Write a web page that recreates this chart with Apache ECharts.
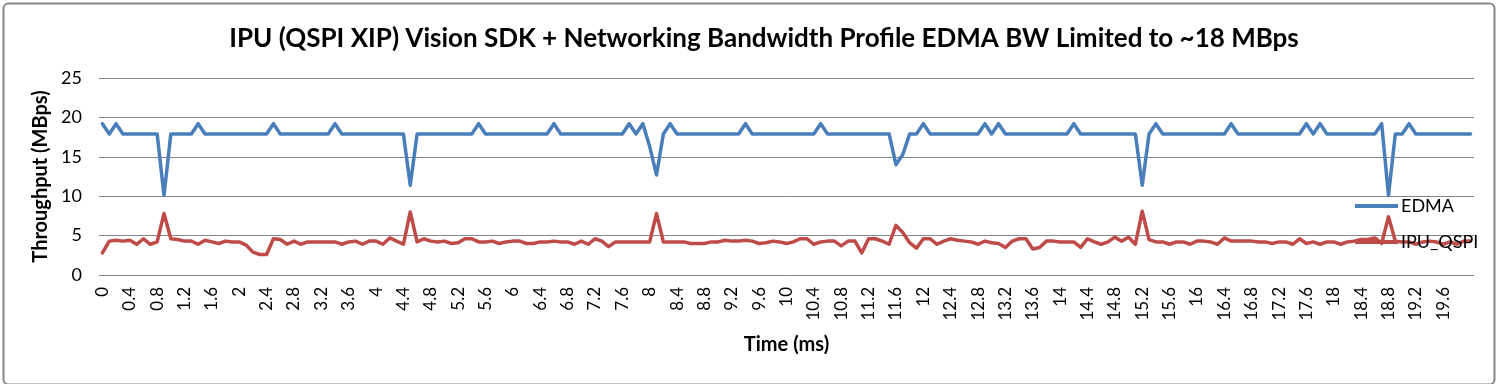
<!DOCTYPE html>
<html>
<head>
<meta charset="utf-8">
<script src="https://cdn.jsdelivr.net/npm/echarts@6/dist/echarts.min.js"></script>
<style>
html,body{margin:0;padding:0;background:#fff;}
#chart{width:1497px;height:384px;}
</style>
</head>
<body>
<div id="chart"></div>
<script>
const categories = [
"0","0.1","0.2","0.3","0.4","0.5","0.6","0.7","0.8","0.9",
"1","1.1","1.2","1.3","1.4","1.5","1.6","1.7","1.8","1.9",
"2","2.1","2.2","2.3","2.4","2.5","2.6","2.7","2.8","2.9",
"3","3.1","3.2","3.3","3.4","3.5","3.6","3.7","3.8","3.9",
"4","4.1","4.2","4.3","4.4","4.5","4.6","4.7","4.8","4.9",
"5","5.1","5.2","5.3","5.4","5.5","5.6","5.7","5.8","5.9",
"6","6.1","6.2","6.3","6.4","6.5","6.6","6.7","6.8","6.9",
"7","7.1","7.2","7.3","7.4","7.5","7.6","7.7","7.8","7.9",
"8","8.1","8.2","8.3","8.4","8.5","8.6","8.7","8.8","8.9",
"9","9.1","9.2","9.3","9.4","9.5","9.6","9.7","9.8","9.9",
"10","10.1","10.2","10.3","10.4","10.5","10.6","10.7","10.8","10.9",
"11","11.1","11.2","11.3","11.4","11.5","11.6","11.7","11.8","11.9",
"12","12.1","12.2","12.3","12.4","12.5","12.6","12.7","12.8","12.9",
"13","13.1","13.2","13.3","13.4","13.5","13.6","13.7","13.8","13.9",
"14","14.1","14.2","14.3","14.4","14.5","14.6","14.7","14.8","14.9",
"15","15.1","15.2","15.3","15.4","15.5","15.6","15.7","15.8","15.9",
"16","16.1","16.2","16.3","16.4","16.5","16.6","16.7","16.8","16.9",
"17","17.1","17.2","17.3","17.4","17.5","17.6","17.7","17.8","17.9",
"18","18.1","18.2","18.3","18.4","18.5","18.6","18.7","18.8","18.9",
"19","19.1","19.2","19.3","19.4","19.5","19.6","19.7","19.8","19.9",
"20"
];

const edma = [
19.2,17.9,19.2,17.9,17.9,17.9,17.9,17.9,17.9,10.1,
17.9,17.9,17.9,17.9,19.2,17.9,17.9,17.9,17.9,17.9,
17.9,17.9,17.9,17.9,17.9,19.2,17.9,17.9,17.9,17.9,
17.9,17.9,17.9,17.9,19.2,17.9,17.9,17.9,17.9,17.9,
17.9,17.9,17.9,17.9,17.9,11.4,17.9,17.9,17.9,17.9,
17.9,17.9,17.9,17.9,17.9,19.2,17.9,17.9,17.9,17.9,
17.9,17.9,17.9,17.9,17.9,17.9,19.2,17.9,17.9,17.9,
17.9,17.9,17.9,17.9,17.9,17.9,17.9,19.2,17.9,19.2,
16.3,12.7,17.9,19.2,17.9,17.9,17.9,17.9,17.9,17.9,
17.9,17.9,17.9,17.9,19.2,17.9,17.9,17.9,17.9,17.9,
17.9,17.9,17.9,17.9,17.9,19.2,17.9,17.9,17.9,17.9,
17.9,17.9,17.9,17.9,17.9,17.9,14.0,15.3,17.9,17.9,
19.2,17.9,17.9,17.9,17.9,17.9,17.9,17.9,17.9,19.2,
17.9,19.2,17.9,17.9,17.9,17.9,17.9,17.9,17.9,17.9,
17.9,17.9,19.2,17.9,17.9,17.9,17.9,17.9,17.9,17.9,
17.9,17.9,11.4,17.9,19.2,17.9,17.9,17.9,17.9,17.9,
17.9,17.9,17.9,17.9,17.9,19.2,17.9,17.9,17.9,17.9,
17.9,17.9,17.9,17.9,17.9,17.9,19.2,17.9,19.2,17.9,
17.9,17.9,17.9,17.9,17.9,17.9,17.9,19.2,10.1,17.9,
17.9,19.2,17.9,17.9,17.9,17.9,17.9,17.9,17.9,17.9,
17.9
];

const ipuQspi = [
2.8,4.3,4.4,4.3,4.4,3.9,4.6,3.9,4.2,7.8,
4.6,4.5,4.3,4.3,3.9,4.4,4.2,4.0,4.3,4.2,
4.2,3.8,2.9,2.6,2.6,4.6,4.5,3.9,4.3,3.9,
4.2,4.2,4.2,4.2,4.2,3.9,4.2,4.3,3.9,4.3,
4.3,3.9,4.7,4.3,3.9,8.0,4.2,4.6,4.3,4.2,
4.3,4.0,4.1,4.6,4.6,4.2,4.2,4.3,4.0,4.2,
4.3,4.3,4.0,4.0,4.2,4.2,4.3,4.2,4.2,3.9,
4.3,3.9,4.6,4.3,3.6,4.2,4.2,4.2,4.2,4.2,
4.2,7.8,4.2,4.2,4.2,4.2,4.0,4.0,4.0,4.2,
4.2,4.4,4.3,4.3,4.4,4.3,4.0,4.1,4.3,4.2,
4.0,4.2,4.6,4.6,3.9,4.2,4.3,4.3,3.7,4.3,
4.3,2.8,4.6,4.6,4.3,3.9,6.3,5.4,4.1,3.4,
4.6,4.6,3.9,4.3,4.6,4.4,4.3,4.2,3.9,4.3,
4.1,4.0,3.5,4.3,4.6,4.6,3.3,3.5,4.3,4.3,
4.2,4.2,4.2,3.5,4.6,4.2,3.9,4.2,4.8,4.3,
4.8,3.9,8.1,4.5,4.2,4.2,3.9,4.2,4.2,3.9,
4.3,4.3,4.2,3.9,4.7,4.3,4.3,4.3,4.3,4.2,
4.2,4.0,4.2,4.2,3.9,4.6,4.0,4.2,3.9,4.2,
4.2,3.9,4.2,4.3,4.5,4.5,4.7,4.0,7.4,4.3,
4.2,4.2,3.9,4.2,4.3,4.2,3.9,4.2,3.9,4.3,
4.3
];

const yTicks = { min: 0, max: 25, interval: 5 };
const seriesNames = ["EDMA", "IPU_QSPI"];
const titleText = "IPU (QSPI XIP) Vision SDK + Networking Bandwidth Profile EDMA BW Limited to ~18 MBps";

const FONT = "Lato";
const chart = echarts.init(document.getElementById('chart'), null, { renderer: 'canvas' });
chart.setOption({
  animation: false,
  backgroundColor: '#fff',
  title: {
    text: titleText,
    left: 759, textAlign: 'center',
    top: 21,
    textStyle: { fontFamily: FONT, fontWeight: 'bold', fontSize: 26, color: '#000' }
  },
  graphic: [{
    type: 'rect', left: 1, top: 1,
    shape: { width: 1491, height: 381, r: 5 },
    style: { fill: 'none', stroke: '#868686', lineWidth: 2 },
    z: 100
  }],
  legend: {
    orient: 'vertical',
    left: 1350, top: 191,
    icon: 'rect', itemWidth: 43, itemHeight: 4, itemGap: 16,
    textStyle: { fontFamily: FONT, fontSize: 18, color: '#000', lineHeight: 20, padding: [0,0,0,-2] },
    data: seriesNames
  },
  grid: { left: 99, right: 23, top: 78, bottom: 109, containLabel: false },
  xAxis: {
    type: 'category',
    data: categories,
    boundaryGap: true,
    name: 'Time (ms)', nameLocation: 'middle', nameGap: 60,
    nameTextStyle: { fontFamily: FONT, fontWeight: 'bold', fontSize: 20, color: '#000' },
    axisLine: { show: false },
    axisTick: { show: false },
    axisLabel: {
      rotate: 90, margin: 12,
      interval: function (index) { return index % 4 === 0 && index < 200; },
      fontFamily: FONT, fontSize: 17, color: '#000'
    },
    splitLine: { show: false }
  },
  yAxis: {
    type: 'value',
    min: yTicks.min, max: yTicks.max, interval: yTicks.interval,
    name: 'Throughput (MBps)', nameLocation: 'middle', nameGap: 47,
    nameTextStyle: { fontFamily: FONT, fontWeight: 'bold', fontSize: 20, color: '#000' },
    axisLine: { show: false },
    axisTick: { show: false },
    axisLabel: { margin: 17, fontFamily: FONT, fontSize: 18, color: '#000' },
    splitLine: { lineStyle: { color: '#868686', width: 1 } }
  },
  series: [
    {
      name: seriesNames[0], type: 'line', data: edma,
      showSymbol: false, symbol: 'none',
      lineStyle: { color: '#4A7EBB', width: 3.5, join: 'round', cap: 'round' },
      itemStyle: { color: '#4A7EBB' },
      z: 3
    },
    {
      name: seriesNames[1], type: 'line', data: ipuQspi,
      showSymbol: false, symbol: 'none',
      lineStyle: { color: '#BE4B48', width: 3.5, join: 'round', cap: 'round' },
      itemStyle: { color: '#BE4B48' },
      z: 2
    }
  ]
});
</script>
</body>
</html>
